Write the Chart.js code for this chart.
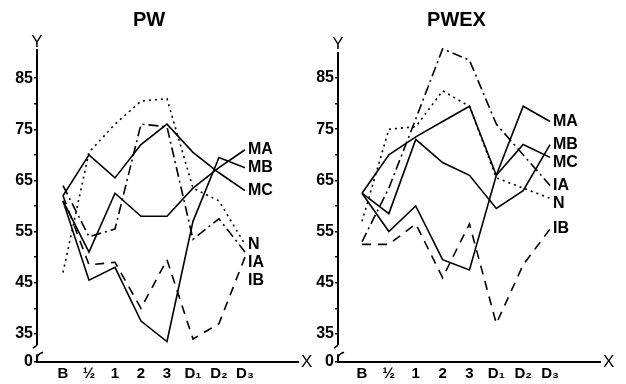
<!DOCTYPE html>
<html>
<head>
<meta charset="utf-8">
<script src="https://cdn.jsdelivr.net/npm/chart.js@4.4.1/dist/chart.umd.min.js"></script>
<style>
body { margin: 0; background: #fff; }
.panel { position: absolute; top: 0; width: 313px; height: 384px; }
</style>
</head>
<body>
<div class="panel" style="left:0"><canvas id="pw"></canvas></div>
<div class="panel" style="left:313px"><canvas id="pwex"></canvas></div>
<script>
var categories = ['B', '½', '1', '2', '3', 'D₁', 'D₂', 'D₃'];
var yTicks = [35, 40, 45, 50, 55, 60, 65, 70, 75, 80, 85];
var seriesNames = ['MA', 'MB', 'MC', 'N', 'IA', 'IB'];

// PW
var pwMA = [61, 51, 62.5, 58, 58, 63.5, 67.5, 71];
var pwMB = [61, 45.5, 48, 37.5, 33.5, 57, 69.5, 67.5];
var pwMC = [62, 70, 65.5, 72, 76, 70.5, 66.5, 63];
var pwN  = [47, 70.5, 76, 80.5, 81, 63.5, 61, 52.5];
var pwIA = [64, 54, 55.5, 76, 75.5, 53.5, 57.5, 51];
var pwIB = [62, 48.5, 49, 40, 49.5, 34, 37, 50];

// PWEX
var pwexMA = [62.5, 55, 60, 49.5, 47.5, 66, 79.5, 76.5];
var pwexMB = [62.5, 58.5, 73, 68.5, 66, 59.5, 63, 72];
var pwexMC = [62.5, 70, 73.5, 76.5, 79.5, 66, 72, 69.5];
var pwexN  = [57, 75, 75.5, 82.5, 79.5, 65.5, 63.5, 61.5];
var pwexIA = [53, 63.5, 77, 90.7, 88.5, 76, 70, 64];
var pwexIB = [52.5, 52.5, 56.5, 46, 56.5, 37, 48.5, 55.5];

var FONT = "'Liberation Sans', Arial, sans-serif";
var Y_MIN = 29.5;
var dashes = { MA: [], MB: [], MC: [], N: [2, 4], IA: [10, 4, 2, 4], IB: [9, 7] };

var decor = {
	id: 'decor',
	afterDraw: function(chart) {
		var ctx = chart.ctx, a = chart.chartArea;
		var xs = chart.scales.x, ys = chart.scales.y;
		ctx.save();
		ctx.fillStyle = '#000';
		ctx.font = '17px ' + FONT;
		ctx.textAlign = 'center';
		ctx.textBaseline = 'middle';
		ctx.fillText('Y', a.left, a.top - 8);
		ctx.textAlign = 'left';
		ctx.fillText('X', a.right + 3, a.bottom);

		// axis break
		var y1 = ys.getPixelForValue(32.8), y2 = ys.getPixelForValue(31);
		ctx.fillStyle = '#fff';
		ctx.fillRect(a.left - 2, y1, 4, y2 - y1);
		ctx.strokeStyle = '#000';
		ctx.lineWidth = 1.5;
		ctx.beginPath();
		ctx.moveTo(a.left, y1);
		ctx.lineTo(a.left - 4, y1 + 3);
		ctx.moveTo(a.left + 6, y2 - 2);
		ctx.quadraticCurveTo(a.left, y2, a.left, y2 + 4);
		ctx.stroke();

		// series names at line ends
		var items = chart.data.datasets.map(function(d) {
			var last = d.data[d.data.length - 1];
			return { t: d.label, x: xs.getPixelForValue(last.x), y: ys.getPixelForValue(last.y) };
		});
		items.sort(function(p, q) { return p.y - q.y; });
		for (var i = 1; i < items.length; i++) {
			if (items[i].y < items[i - 1].y + 18) items[i].y = items[i - 1].y + 18;
		}
		ctx.fillStyle = '#000';
		ctx.font = 'bold 16px ' + FONT;
		items.forEach(function(it) { ctx.fillText(it.t, it.x + 3, it.y); });
		ctx.restore();
	}
};

function panel(id, title, series, xMin, xMax, yMax, padRight, axisW, titleBottom) {
	var datasets = seriesNames.map(function(name, k) {
		return {
			label: name,
			data: series[k].map(function(v, i) { return { x: i, y: v }; }),
			borderColor: '#000',
			borderWidth: 1.6,
			borderDash: dashes[name],
			pointRadius: 0,
			tension: 0,
			fill: false,
			clip: false
		};
	});
	return new Chart(document.getElementById(id), {
		type: 'line',
		data: { datasets: datasets },
		options: {
			responsive: true,
			maintainAspectRatio: false,
			animation: false,
			layout: { padding: { left: 0, right: padRight, top: 0, bottom: 0 } },
			plugins: {
				legend: { display: false },
				tooltip: { enabled: false },
				title: {
					display: true, text: title, color: '#000',
					font: { family: FONT, size: 20, weight: 'bold' },
					padding: { top: 8, bottom: titleBottom }
				}
			},
			scales: {
				x: {
					type: 'linear', min: xMin, max: xMax,
					grid: { display: false, drawTicks: false },
					border: { display: true, color: '#000', width: 2 },
					afterBuildTicks: function(s) { s.ticks = categories.map(function(c, i) { return { value: i }; }); },
					afterFit: function(s) { s.height = 22; },
					ticks: {
						color: '#000', padding: 3, autoSkip: false, maxRotation: 0,
						font: { family: FONT, size: 15, weight: 'bold' },
						callback: function(v) { return categories[v]; }
					}
				},
				y: {
					min: Y_MIN, max: yMax,
					grid: { display: true, drawOnChartArea: false, drawTicks: true, tickLength: 3, color: '#000', lineWidth: 1.5 },
					border: { display: true, color: '#000', width: 2 },
					afterBuildTicks: function(s) { s.ticks = [Y_MIN].concat(yTicks).map(function(v) { return { value: v }; }); },
					afterFit: function(s) { s.width = axisW; },
					ticks: {
						color: '#000', padding: 1, autoSkip: false,
						font: { family: FONT, size: 16, weight: 'bold' },
						callback: function(v) { return v === Y_MIN ? '0' : (v % 10 === 5 ? String(v) : ''); }
					}
				}
			}
		},
		plugins: [decor]
	});
}

panel('pw', 'PW', [pwMA, pwMB, pwMC, pwN, pwIA, pwIB], -1, 9.04, 90.5, 15, 37, 18);
panel('pwex', 'PWEX', [pwexMA, pwexMB, pwexMC, pwexN, pwexIA, pwexIB], -0.894, 8.86, 90, 26, 25, 20.5);
</script>
</body>
</html>
